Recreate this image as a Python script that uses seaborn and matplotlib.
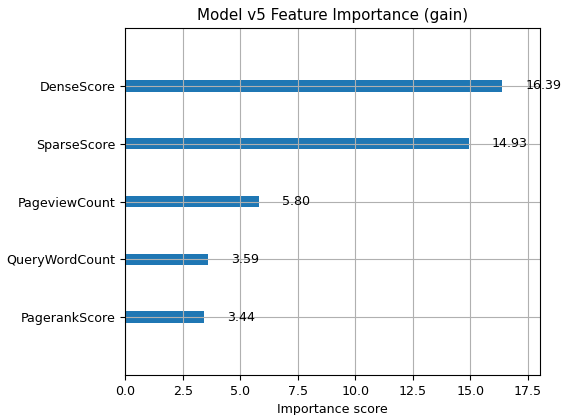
import matplotlib
matplotlib.use("Agg")
import matplotlib.pyplot as plt
import pandas as pd
import seaborn as sns

features = ["DenseScore", "SparseScore", "PageviewCount", "QueryWordCount", "PagerankScore"]
scores = [16.39, 14.93, 5.80, 3.59, 3.44]

df = pd.DataFrame({"feature": features, "score": scores})

plt.rcParams["font.size"] = 9.06

fig, ax = plt.subplots(figsize=(5.61, 4.15), dpi=100)
sns.barplot(
    data=df,
    x="score",
    y="feature",
    order=features,
    color="#1f77b4",
    saturation=1,
    width=0.2,
    ax=ax,
)

for i, v in enumerate(scores):
    ax.text(v + 1, i, f"{v:.2f}", va="center")

ax.grid(True)
ax.set_xlim(0, max(scores) * 1.1)
ax.set_ylim(len(features), -1)
ax.set_title("Model v5 Feature Importance (gain)")
ax.set_xlabel("Importance score")
ax.set_ylabel("")

plt.subplots_adjust(left=0.223, right=0.9626, top=0.9325, bottom=0.0964)
plt.savefig("out.png")
